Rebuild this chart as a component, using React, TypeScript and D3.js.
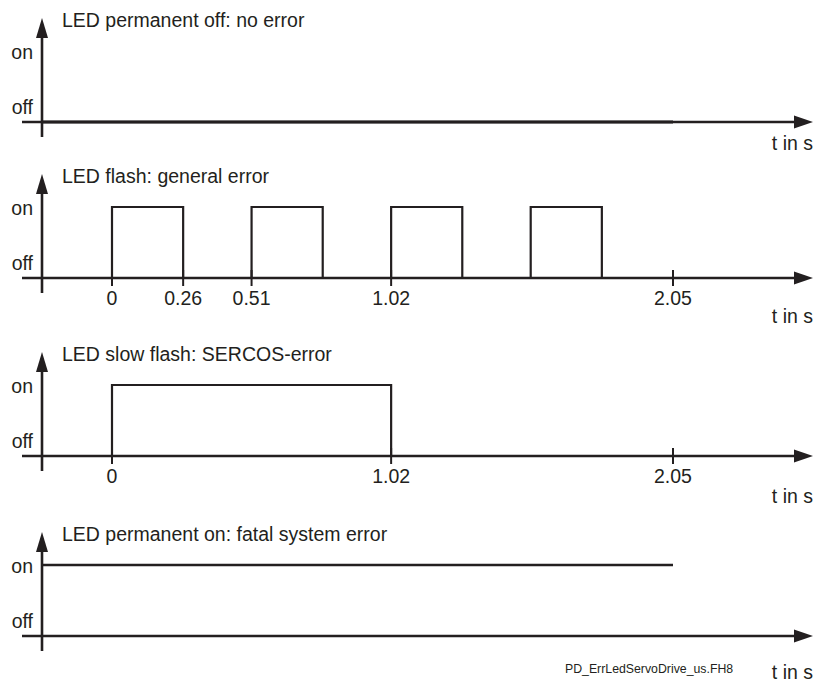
import React from 'react';
import * as d3 from 'd3';

// signal timings in seconds
const panelTitles = [
  'LED permanent off: no error',
  'LED flash: general error',
  'LED slow flash: SERCOS-error',
  'LED permanent on: fatal system error',
];
const flashStarts = [0, 0.51, 1.02, 1.53];
const flashEnds = [0.26, 0.77, 1.28, 1.79];
const flashTicks = [0, 0.26, 0.51, 1.02, 2.05];
const slowStarts = [0];
const slowEnds = [1.02];
const slowTicks = [0, 1.02, 2.05];
const steadyEnd = 2.05;
const levelLabels = ['on', 'off'];
const unitLabel = 't in s';
const footer = 'PD_ErrLedServoDrive_us.FH8';

const W = 816;
const H = 683;
const INK = '#231f20';
const FONT = '"Liberation Sans", Arial, sans-serif';
const FS = 19.5;
const axisX = 42;
const axisLeft = 22;
const arrowTip = 813;
const axisYs = [122, 278, 456, 636];
const unitDy = [21, 38, 40, 36];

const x = d3.scaleLinear().domain([0, 2.05]).range([112, 673]);

function Panel({ idx, starts, ends, ticks, onFrom, onTo, offTo }: any) {
  const ay = axisYs[idx];
  const level = d3.scaleOrdinal<string, number>().domain(['off', 'on']).range([ay, ay - 71]);
  const top = ay - 104;
  const pulsePath = (starts || [])
    .map((s: number, i: number) => {
      const e = ends[i];
      return `M${x(s)},${level('off')}V${level('on')}H${x(e)}V${level('off')}`;
    })
    .join('');
  return (
    <g>
      {/* y axis */}
      <line x1={axisX} x2={axisX} y1={top + 16} y2={ay + 15} stroke={INK} strokeWidth={2.6} />
      <path d={`M${axisX},${top}L${axisX - 6},${top + 20}L${axisX + 6},${top + 20}Z`} fill={INK} />
      {/* x axis */}
      <line x1={axisLeft} x2={arrowTip - 14} y1={ay} y2={ay} stroke={INK} strokeWidth={2.6} />
      <path d={`M${arrowTip},${ay}L${arrowTip - 19},${ay - 6.5}L${arrowTip - 19},${ay + 6.5}Z`} fill={INK} />
      <text x={62} y={top + 2} dy="0.35em" fontSize={FS} fontFamily={FONT} fill={INK}>
        {panelTitles[idx]}
      </text>
      <text x={33} y={level('on') + 1} dy="0.35em" fontSize={FS} fontFamily={FONT} fill={INK} textAnchor="end">
        {levelLabels[0]}
      </text>
      <text x={33} y={ay - 15} dy="0.35em" fontSize={FS} fontFamily={FONT} fill={INK} textAnchor="end">
        {levelLabels[1]}
      </text>
      <text x={arrowTip} y={ay + unitDy[idx]} dy="0.35em" fontSize={FS} fontFamily={FONT} fill={INK} textAnchor="end">
        {unitLabel}
      </text>
      {(ticks || []).map((t: number) => (
        <g key={t}>
          <line x1={x(t)} x2={x(t)} y1={ay - 8} y2={ay + 8} stroke={INK} strokeWidth={2} />
          <text x={x(t)} y={ay + 20} dy="0.35em" fontSize={FS} fontFamily={FONT} fill={INK} textAnchor="middle">
            {d3.format('.2~f')(t)}
          </text>
        </g>
      ))}
      {pulsePath && <path d={pulsePath} fill="none" stroke={INK} strokeWidth={2.2} />}
      {onTo !== undefined && (
        <line x1={onFrom} x2={x(onTo)} y1={level('on')} y2={level('on')} stroke={INK} strokeWidth={2.4} />
      )}
      {offTo !== undefined && (
        <line x1={axisX} x2={x(offTo)} y1={ay} y2={ay} stroke={INK} strokeWidth={3} />
      )}
    </g>
  );
}

export default function App() {
  return (
    <svg width={W} height={H} style={{ position: 'absolute', left: 0, top: 0, background: '#fff' }}>
      <rect width={W} height={H} fill="#fff" />
      <Panel idx={0} offTo={steadyEnd} />
      <Panel idx={1} starts={flashStarts} ends={flashEnds} ticks={flashTicks} />
      <Panel idx={2} starts={slowStarts} ends={slowEnds} ticks={slowTicks} />
      <Panel idx={3} onFrom={axisX} onTo={steadyEnd} />
      <text x={565} y={669} dy="0.35em" fontSize={12.3} fontFamily={FONT} fill={INK}>
        {footer}
      </text>
    </svg>
  );
}
